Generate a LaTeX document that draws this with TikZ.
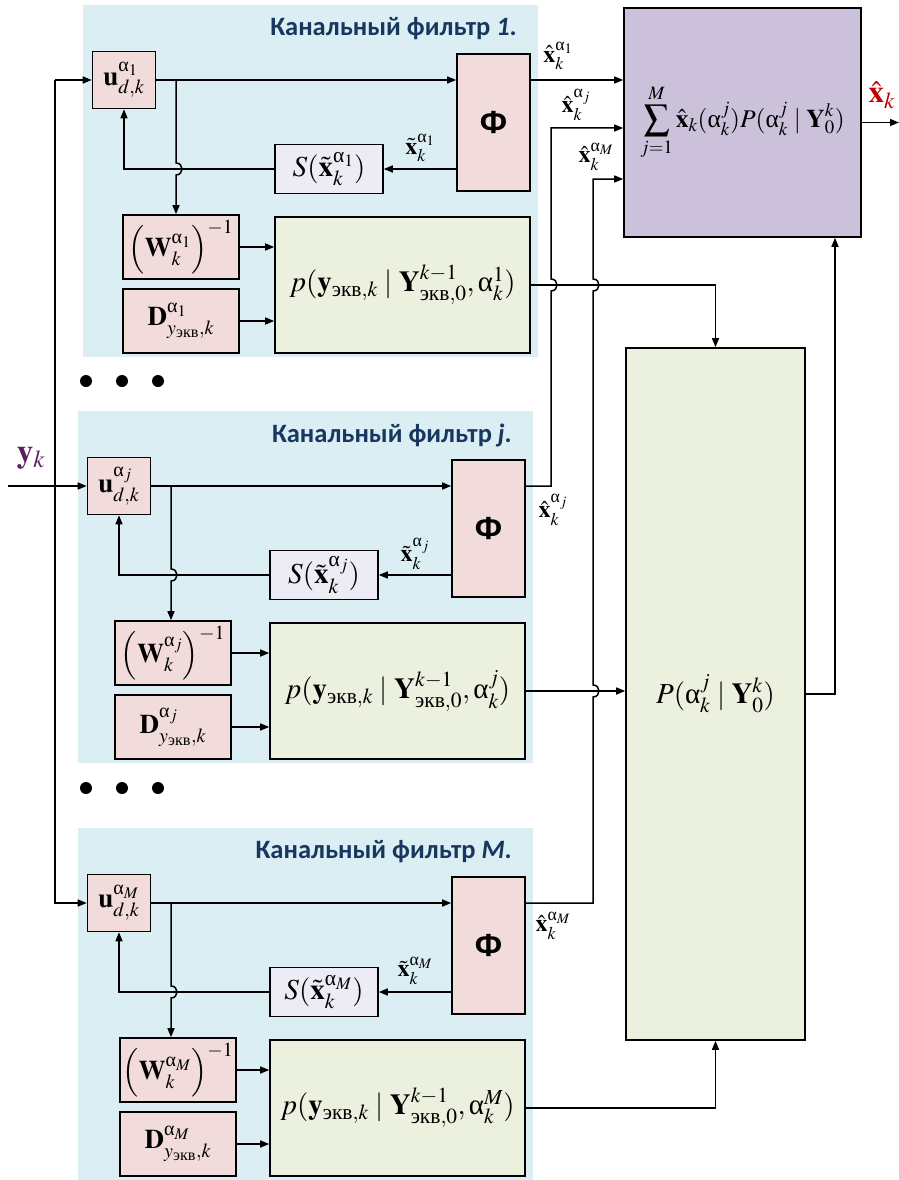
\documentclass[tikz,border=0pt]{standalone}
\usepackage{amsmath}
\usepackage{mathptmx}
\usepackage{fontspec}
\setmainfont{Liberation Serif}
\newfontfamily\titlefont{Carlito}
\newfontfamily\phifont{Liberation Sans}
\usetikzlibrary{arrows.meta}
\newcommand\ual{\text{\upshape\mdseries α}}
\newcommand\ekv{\text{\upshape\mdseries\rmfamily экв}}
\definecolor{bgblue}{HTML}{DAEEF3}
\definecolor{pinkc}{HTML}{F2DCDB}
\definecolor{lavc}{HTML}{EDEBF3}
\definecolor{greenc}{HTML}{EBF1DE}
\definecolor{purplec}{HTML}{CCC1DA}
\definecolor{titlec}{HTML}{17375E}
\definecolor{redc}{HTML}{C00000}
\definecolor{ykc}{HTML}{5A1E5E}
\tikzset{
  blk/.style={draw, line width=1.6pt, inner sep=0pt, align=center},
  pinkbox/.style={blk, fill=pinkc},
  lavbox/.style={blk, fill=lavc},
  greenbox/.style={blk, fill=greenc},
  purplebox/.style={blk, fill=purplec},
  titlestyle/.style={font=\titlefont\bfseries\fontsize{26.5}{30}\selectfont, text=titlec, inner sep=0pt},
  arr/.style={line width=1.5pt, -{Triangle[length=9pt,width=7pt]}},
  mlab/.style={inner sep=0pt, font=\fontsize{24}{28}\selectfont},
  bigm/.style={font=\fontsize{29}{33}\selectfont},
  midm/.style={font=\fontsize{27}{31}\selectfont},
}
\newcommand\filterblock[6]{%
\begin{scope}[shift={(#2,#3)}]
\fill[bgblue] (78,0) rectangle (533,352);
\node[titlestyle, anchor=east] (t#1) at (512,24) {Канальный фильтр \textit{#5}.};
\node[pinkbox, midm, minimum width=63pt, minimum height=57pt] (u#1) at (119,75) {$\mathbf{u}^{#4}_{d,k}$};
\node[pinkbox, minimum width=73pt, minimum height=137pt, font=\phifont\bfseries\fontsize{32}{36}\selectfont] (f#1) at (488.5,117.5) {Ф};
\node[lavbox, bigm, minimum width=108pt, minimum height=49pt] (s#1) at (324,164) {$S(\tilde{\mathbf{x}}_k^{#4})$};
\node[pinkbox, midm, minimum width=116pt, minimum height=64pt] (w#1) at (#6,242) {$\Bigl(\mathbf{W}_k^{#4}\Bigr)^{-1}$};
\node[pinkbox, midm, minimum width=116pt, minimum height=64pt] (d#1) at (#6,316) {$\mathbf{D}^{#4}_{y_{\ekv},k}$};
\node[greenbox, bigm, minimum width=255pt, minimum height=136pt] (p#1) at (397.5,280) {$p(\mathbf{y}_{\ekv,k}\mid \mathbf{Y}^{k-1}_{\ekv,0},\ual_k^{#5})$};
\node[mlab] (xt#1) at (415,143) {$\tilde{\mathbf{x}}_k^{#4}$};
\coordinate (br#1) at (171,75);
\draw[arr] (u#1.east) -- (f#1.west |- u#1.east);
\draw[arr] (br#1) -- (171,158) .. controls (179,158) and (179,170) .. (171,170) -- (br#1 |- w#1.north);
\draw[arr] (f#1.west |- s#1.east) -- (s#1.east);
\draw[arr] (s#1.west) -- (u#1.south |- s#1.west) -- (u#1.south);
\draw[arr] (w#1.east) -- (p#1.west |- w#1.east);
\draw[arr] (d#1.east) -- (p#1.west |- d#1.east);
\end{scope}}
\begin{document}
\begin{tikzpicture}[x=1pt,y=-1pt]
\useasboundingbox (0,0) rectangle (899,1180);
\filterblock{1}{5}{5}{\ual_1}{1}{176}
\filterblock{j}{0}{411}{\ual_j}{j}{173}
\filterblock{M}{0}{828}{\ual_M}{M}{178}
% dots
\foreach \yy in {381,788}{
  \foreach \xx in {86,122,158}{\fill (\xx,\yy) circle[radius=6pt];}}
% right blocks
\node[purplebox, font=\fontsize{25.5}{29}\selectfont, minimum width=237pt, minimum height=229pt] (sum) at (742.5,122.5)
  {$\displaystyle\sum_{j=1}^{M}\hat{\mathbf{x}}_k(\ual_k^j)P(\ual_k^j\mid\mathbf{Y}_0^k)$};
\node[greenbox, bigm, minimum width=179pt, minimum height=692pt] (P) at (715.5,694)
  {$P(\ual_k^j\mid\mathbf{Y}_0^k)$};
% input bus
\coordinate (lt) at (55,80);
\coordinate (lb) at (55,903);
\coordinate (yin) at (8,486);
\draw[arr] (lt) -- (u1.west);
\draw[arr] (lt) -- (lb) -- (uM.west);
\draw[arr] (yin) -- (uj.west);
\node[inner sep=0pt, text=ykc, font=\fontsize{33}{36}\selectfont] (yk) at (31,458) {$\mathbf{y}_k$};
% filter outputs to sum
\coordinate (vj) at (551,128);
\coordinate (vM) at (593,179);
\draw[arr] (f1.east |- u1.east) -- (sum.west |- u1.east);
\draw[arr] (fj.east |- uj.east) -- (vj |- uj.east) -- (551,291) .. controls (559,291) and (559,279) .. (551,279) -- (vj) -- (sum.west |- vj);
\draw[arr] (fM.east |- uM.east) -- (vM |- uM.east) -- (593,697) .. controls (601,697) and (601,685) .. (593,685) -- (593,291) .. controls (601,291) and (601,279) .. (593,279) -- (vM) -- (sum.west |- vM);
% likelihoods to P
\draw[arr] (p1.east) -- (p1.east -| P.north) -- (P.north);
\draw[arr] (pj.east) -- (P.west |- pj.east);
\draw[arr] (pM.east) -- (pM.east -| P.south) -- (P.south);
\coordinate (pc) at (835,0);
\draw[arr] (P.east) -- (P.east -| pc) -- (pc |- sum.south);
\coordinate (out) at (899,122.5);
\draw[arr] (sum.east) -- (out);
% labels
\node[mlab] (l1) at (558,56) {$\hat{\mathbf{x}}_k^{\ual_1}$};
\node[mlab] (l2) at (576,105) {$\hat{\mathbf{x}}_k^{\ual_j}$};
\node[mlab] (l3) at (596,157) {$\hat{\mathbf{x}}_k^{\ual_M}$};
\node[mlab] (l4) at (553,510) {$\hat{\mathbf{x}}_k^{\ual_j}$};
\node[mlab] (l5) at (553,926) {$\hat{\mathbf{x}}_k^{\ual_M}$};
\node[inner sep=0pt, text=redc, font=\fontsize{31}{34}\selectfont] (xk) at (882,95) {$\hat{\mathbf{x}}_k$};
\end{tikzpicture}
\end{document}
